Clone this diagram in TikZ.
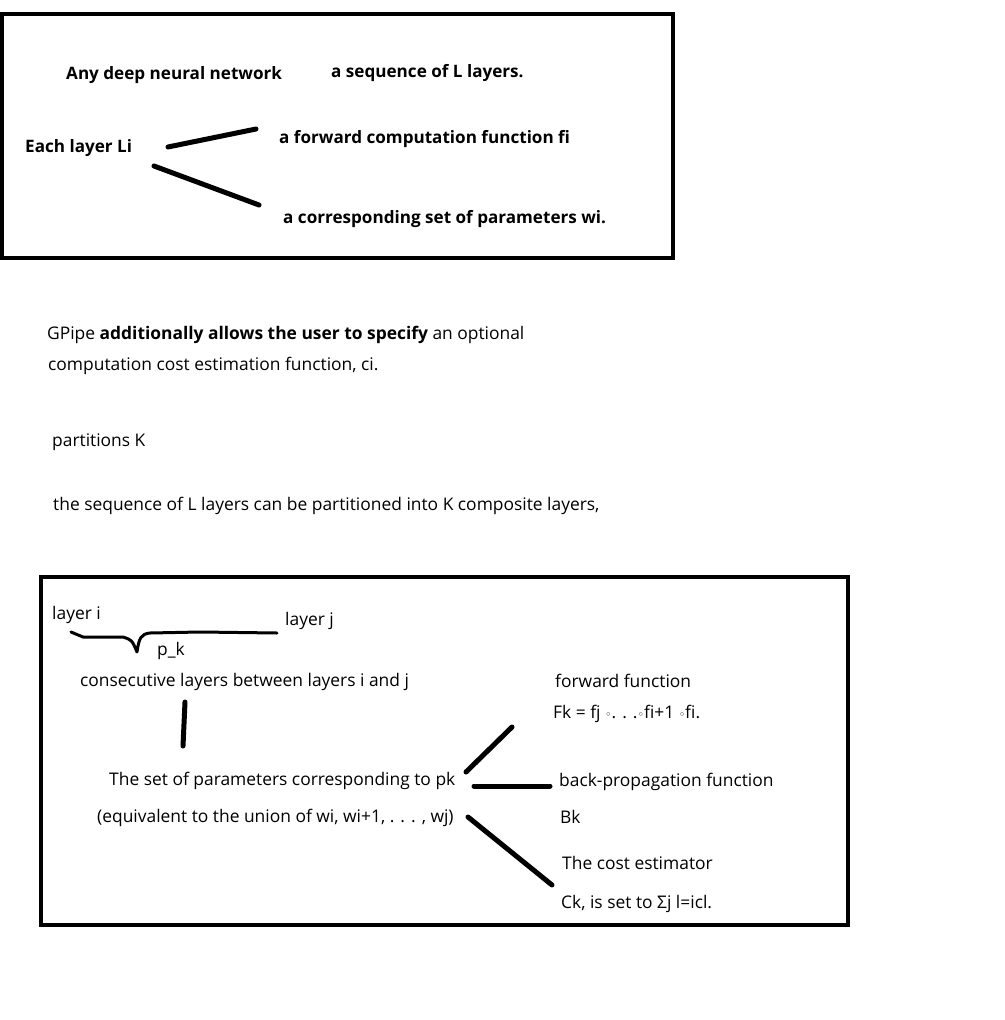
\documentclass[tikz,border=0pt]{standalone}
\usepackage{fontspec}
\setmainfont{Open Sans}
\newfontfamily\djv{DejaVu Sans}
\newcommand{\compo}{{\djv\fontsize{11}{12}\selectfont ◦}}
\begin{document}
\begin{tikzpicture}[x=1pt,y=-1pt,
  txt/.style={anchor=base west,inner sep=0pt,font=\fontsize{17.4}{20}\selectfont},
  btxt/.style={anchor=base west,inner sep=0pt,font=\fontsize{17.1}{20}\selectfont\bfseries},
  frame/.style={draw=black,line width=4pt},
  stroke/.style={draw=black,line width=5pt,line cap=round},
  thin stroke/.style={draw=black,line width=3pt,line cap=round,line join=round}]
\useasboundingbox (0,0) rectangle (1004,1020);
% top box
\draw[frame] (2,14) rectangle (673,258);
\node[btxt] (dnn) at (66,79) {Any deep neural network};
\node[btxt] (seq) at (331,77) {a sequence of L layers.};
\node[btxt] (each) at (25,152) {Each layer Li};
\node[btxt] (fwd) at (279,143) {a forward computation function fi};
\node[btxt] (par) at (283,223) {a corresponding set of parameters wi.};
\coordinate (a1) at (168,147); \coordinate (a2) at (256,129);
\coordinate (b1) at (154,166); \coordinate (b2) at (259,205);
\draw[stroke] (a1) -- (a2);
\draw[stroke] (b1) -- (b2);
% middle text
\node[txt] (g1) at (47,339) {GPipe \textbf{additionally allows the user to specify} an optional};
\node[txt] (g2) at (48,370) {computation cost estimation function, ci.};
\node[txt] (pk) at (52,446) {partitions K};
\node[txt] (sq) at (53,510) {the sequence of L layers can be partitioned into K composite layers,};
% bottom box
\draw[frame] (41,577) rectangle (848,925);
\node[txt] (li) at (52,619) {layer i};
\node[txt] (lj) at (285,625) {layer j};
\node[txt] (pkl) at (157,655) {p\_k};
\coordinate (c1) at (71,632); \coordinate (c2) at (277,633);
\draw[thin stroke] (c1) -- (83,637) -- (123,637) .. controls (132,640) .. (137,652)
  .. controls (139,638) and (141,634) .. (150,633) -- (200,632) -- (c2);
\node[txt] (cons) at (80,686) {consecutive layers between layers i and j};
\coordinate (v1) at (185,702); \coordinate (v2) at (183,746);
\draw[stroke] (v1) -- (v2);
\node[txt] (set) at (109,785) {The set of parameters corresponding to pk};
\node[txt] (eq) at (97,822) {(equivalent to the union of wi, wi+1, . . . , wj)};
\node[txt] (ff) at (555,687) {forward function};
\node[txt] (fk) at (553,718) {Fk = fj \compo. . .\compo fi+1 \compo fi.};
\node[txt] (bp) at (559,786) {back-propagation function};
\node[txt] (bk) at (560,823) {Bk};
\node[txt] (ce) at (562,869) {The cost estimator};
\node[txt] (ck) at (561,908) {Ck, is set to Σj l=icl.};
\coordinate (d1) at (466,772); \coordinate (d2) at (512,727);
\coordinate (e1) at (474,786); \coordinate (e2) at (550,786);
\coordinate (f1) at (468,817); \coordinate (f2) at (552,885);
\draw[stroke] (d1) -- (d2);
\draw[stroke] (e1) -- (e2);
\draw[stroke] (f1) -- (f2);
\end{tikzpicture}
\end{document}
